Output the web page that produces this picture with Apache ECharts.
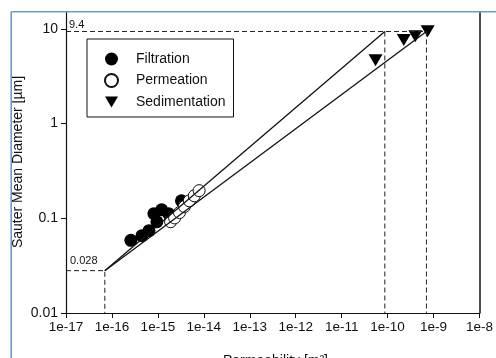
<!DOCTYPE html>
<html>
<head>
<meta charset="utf-8">
<script src="https://cdn.jsdelivr.net/npm/echarts@6/dist/echarts.min.js"></script>
<style>
  html, body { margin: 0; padding: 0; background: #fff; }
  #chart { width: 496px; height: 358px; }
</style>
</head>
<body>
<div id="chart"></div>
<script>
// Permeability [m²] vs. Sauter mean diameter [µm]
const filtration = [
  [2.58e-16, 0.0585], [4.5e-16, 0.0655], [6.4e-16, 0.074], [9.5e-16, 0.092],
  [8.2e-16, 0.112], [1.21e-15, 0.123], [1.71e-15, 0.112], [3.26e-15, 0.153]
];
const permeation = [
  [1.89e-15, 0.092], [2.31e-15, 0.101], [2.95e-15, 0.115], [3.78e-15, 0.133],
  [4.84e-15, 0.153], [6.2e-15, 0.173], [7.9e-15, 0.196]
];
const sedimentation = [
  [5.46e-11, 4.67], [2.25e-10, 7.63], [4.01e-10, 8.37], [7.44e-10, 9.45]
];

// fitted trend lines through the common lower point
const lowerPoint = [7.0e-17, 0.028];
const upperFitEnd = [8.7e-11, 9.4];
const lowerFitEnd = [7.0e-10, 9.4];

// axis extents and tick values
const xMin = 1e-17, xMax = 1e-8;
const yMin = 0.01, yMax = 15.1;
const guideLow = 0.028, guideHigh = 9.4;

const font = '"Liberation Sans", Arial, sans-serif';
const chart = echarts.init(document.getElementById('chart'), null, { renderer: 'canvas' });

const dashed = { color: '#222', width: 1, type: [5, 3] };

function guide(points, labelText, labelPos) {
  return {
    type: 'line', data: points.map((p, i) => {
      if (i === 0 && labelText) {
        return { value: p, label: { show: true, formatter: labelText, position: labelPos,
          fontSize: 11, fontFamily: font, color: '#111' } };
      }
      return { value: p };
    }),
    showSymbol: true, symbolSize: 0, symbol: 'circle',
    lineStyle: dashed, silent: true, z: 3, animation: false,
    label: { show: false }
  };
}

const triPath = 'path://M0,0L12,0L6,10Z';

chart.setOption({
  animation: false,
  backgroundColor: '#fff',
  grid: { left: 66, right: 11, top: 12, bottom: 45 },
  xAxis: {
    type: 'log', logBase: 10, min: xMin, max: xMax,
    axisLine: { lineStyle: { color: '#111', width: 1.2 } },
    axisTick: { show: true, length: 5, lineStyle: { color: '#111' } },
    minorTick: { show: false },
    splitLine: { show: false },
    axisLabel: {
      fontSize: 13.5, fontFamily: font, color: '#111', margin: 7,
      formatter: v => '1e' + Math.round(Math.log10(v))
    }
  },
  yAxis: [{
    type: 'log', logBase: 10, min: yMin, max: yMax,
    axisLine: { show: true, lineStyle: { color: '#111', width: 1.2 } },
    axisTick: { show: true, length: 5, lineStyle: { color: '#111' } },
    splitLine: { show: false },
    axisLabel: {
      fontSize: 14, fontFamily: font, color: '#111', margin: 8, showMaxLabel: false,
      formatter: v => {
        const e = Math.round(Math.log10(v));
        if (Math.abs(Math.log10(v) - e) > 1e-6) return '';
        return e >= 0 ? String(Math.pow(10, e)) : String(+Math.pow(10, e).toPrecision(1));
      }
    }
  }, {
    type: 'log', logBase: 10, min: yMin, max: yMax, position: 'right',
    axisLine: { show: true, lineStyle: { color: '#111', width: 1.5 } },
    axisTick: { show: false }, axisLabel: { show: false }, splitLine: { show: false }
  }],
  legend: {
    left: 87, top: 39, orient: 'vertical',
    padding: [13, 8, 8, 17],
    itemWidth: 13, itemHeight: 13, itemGap: 7,
    borderColor: '#111', borderWidth: 1, borderRadius: 0,
    backgroundColor: '#fff',
    textStyle: { fontSize: 14, fontFamily: font, color: '#111', padding: [0, 0, 0, 13] },
    data: ['Filtration', 'Permeation', 'Sedimentation']
  },
  series: [
    {
      name: 'Filtration', type: 'scatter', data: filtration, symbol: 'circle', symbolSize: 13,
      itemStyle: { color: '#000', opacity: 1 }, z: 2
    },
    {
      name: 'Permeation', type: 'scatter', data: permeation, symbol: 'circle', symbolSize: 12,
      itemStyle: { color: '#fff', borderColor: '#111', borderWidth: 1, opacity: 1 }, z: 2
    },
    {
      name: 'Sedimentation', type: 'scatter', data: sedimentation, symbol: triPath, symbolSize: [14, 12],
      itemStyle: { color: '#000', opacity: 1 }, z: 2
    },
    {
      type: 'line', data: [lowerPoint, upperFitEnd], showSymbol: false,
      lineStyle: { color: '#111', width: 1.3 }, z: 4, silent: true
    },
    {
      type: 'line', data: [lowerPoint, lowerFitEnd], showSymbol: false,
      lineStyle: { color: '#111', width: 1.3 }, z: 4, silent: true
    },
    guide([[xMin, guideHigh], [lowerFitEnd[0], guideHigh]], String(guideHigh), [3, -12]),
    guide([[upperFitEnd[0], guideHigh], [upperFitEnd[0], yMin]]),
    guide([[lowerFitEnd[0], guideHigh], [lowerFitEnd[0], yMin]]),
    guide([[xMin, guideLow], [lowerPoint[0], guideLow], [lowerPoint[0], yMin]], String(guideLow), [4, -15])
  ],
  graphic: [
    {
      type: 'text', x: 18.5, y: 162, rotation: Math.PI / 2,
      style: { text: 'Sauter Mean Diameter [µm]', fontSize: 14, fontFamily: font, fill: '#111',
        align: 'center', verticalAlign: 'middle' }
    },
    {
      type: 'text', x: 275.5, y: 354.5,
      style: { text: 'Permeability [m²]', fontSize: 14, fontFamily: font, fill: '#111',
        align: 'center', verticalAlign: 'top' }
    },
    { type: 'rect', shape: { x: 0, y: 0, width: 10.5, height: 358 }, style: { fill: '#fff' }, z: 100 },
    { type: 'rect', shape: { x: 0, y: 0, width: 496, height: 11.5 }, style: { fill: '#fff' }, z: 100 },
    { type: 'line', shape: { x1: 11.2, y1: 11.8, x2: 11.2, y2: 358 }, style: { stroke: '#6b9bd3', lineWidth: 1.6 }, z: 101 },
    { type: 'line', shape: { x1: 11.2, y1: 11.8, x2: 496, y2: 11.8 }, style: { stroke: '#6b9bd3', lineWidth: 1.6 }, z: 101 }
  ]
});
</script>
</body>
</html>
